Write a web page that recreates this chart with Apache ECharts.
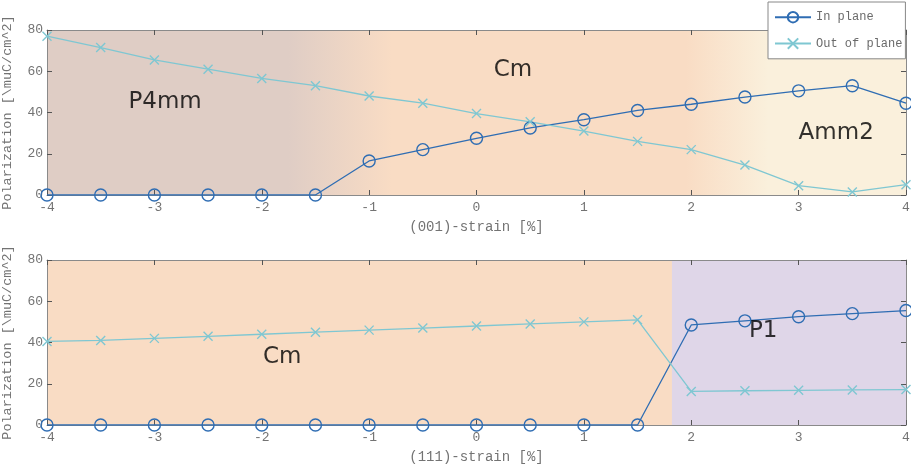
<!DOCTYPE html>
<html>
<head>
<meta charset="utf-8">
<script src="https://cdn.jsdelivr.net/npm/echarts@6/dist/echarts.min.js"></script>
<style>html,body{margin:0;padding:0;background:#fff}#c{width:911px;height:467px}</style>
</head>
<body>
<div id="c"></div>
<script>
// ---- data ----
const strain = [-4,-3.5,-3,-2.5,-2,-1.5,-1,-0.5,0,0.5,1,1.5,2,2.5,3,3.5,4];
const xTicks = [-4,-3,-2,-1,0,1,2,3,4];
const yTicks = [0,20,40,60,80];
const top_inPlane  = [0,0,0,0,0,0,16.5,22,27.5,32.5,36.5,41,44,47.5,50.5,53,44.5];
const top_outPlane = [77,71.5,65.5,61,56.5,53,48,44.5,39.5,35.5,31,26,22,14.5,4.5,1.5,5];
const bot_inPlane  = [0,0,0,0,0,0,0,0,0,0,0,0,48.5,50.5,52.5,54,55.5];
const bot_outPlane = [40.5,41,42,43,44,45,46,47,48,49,50,51,16.3,16.6,16.8,17,17.2];
const seriesNames = ['In plane','Out of plane'];
const xNames = ['(001)-strain [%]','(111)-strain [%]'];
const yName = 'Polarization [\\muC/cm^2]';
// phase regions [from, to, phase-from, phase-to]
const topPhases = [[-4,-1.75,'P4mm','P4mm'],[-1.75,-0.8,'P4mm','Cm'],[-0.8,1.95,'Cm','Cm'],[1.95,2.71,'Cm','Amm2'],[2.71,4,'Amm2','Amm2']];
const botPhases = [[-4,1.82,'Cm','Cm'],[1.82,4,'P1','P1']];
const topLabels = [['P4mm',-2.9,45],['Cm',0.34,60.6],['Amm2',3.35,30]];
const botLabels = [['Cm',-1.81,33],['P1',2.67,45.6]];

const phaseColor = {P4mm:'#dfcdc5', Cm:'#f9dcc4', Amm2:'#faf0dc', P1:'#dfd6e8'};
const cIn = '#2f6db3', cOut = '#7fc7d2';
const axisGray = '#8a8a8a', txtGray = '#737373';
const mono = 'Liberation Mono';

function pairs(ys){ return strain.map((x,i)=>[x,ys[i]]); }
function areas(ph){
  return ph.map((p,i) => [{xAxis:p[0], itemStyle:{color:{type:'linear',x:0,y:0,x2:1,y2:0,
      colorStops:[{offset:0,color:phaseColor[p[2]]},{offset:1,color:phaseColor[p[3]]}]}}},
      {xAxis: i<ph.length-1 ? p[1]+0.012 : p[1]}]);
}
const grids = [{left:47,right:5,top:30,height:165,outerBoundsMode:'none',containLabel:false},
               {left:47,right:5,top:260,height:165,outerBoundsMode:'none',containLabel:false}];
const xAxes = [], yAxes = [];
[0,1].forEach(g=>{
  const base = {type:'value',min:-4,max:4,interval:1,gridIndex:g,splitLine:{show:false},z:10,
    axisLine:{show:true,onZero:false,lineStyle:{color:axisGray,width:1}},axisTick:{show:true,inside:true,length:5,lineStyle:{color:'#555'}}};
  xAxes.push(Object.assign({},base,{position:'bottom',name:xNames[g],nameLocation:'middle',nameGap:25,
    nameTextStyle:{fontFamily:mono,fontSize:14,color:txtGray},
    axisLabel:{fontFamily:mono,fontSize:13,color:txtGray,margin:6,formatter:v=>xTicks.includes(v)?String(v):''}}));
  xAxes.push(Object.assign({},base,{position:'top',axisLabel:{show:false}}));
  const ybase = {type:'value',min:0,max:80,interval:20,gridIndex:g,splitLine:{show:false},z:10,
    axisLine:{show:true,onZero:false,lineStyle:{color:axisGray,width:1}},axisTick:{show:true,inside:true,length:5,lineStyle:{color:'#555'}}};
  yAxes.push(Object.assign({},ybase,{position:'left',name:yName,nameLocation:'middle',nameGap:33,
    nameTextStyle:{fontFamily:mono,fontSize:13.5,color:txtGray},
    axisLabel:{fontFamily:mono,fontSize:13,color:txtGray,margin:4,formatter:v=>yTicks.includes(v)?String(v):''}}));
  yAxes.push(Object.assign({},ybase,{position:'right',axisLabel:{show:false}}));
});

const xSym = 'path://M0,0L10,10M10,0L0,10';
function lineSeries(name, ys, g){
  const isIn = name===seriesNames[0];
  const c = isIn ? cIn : cOut;
  return {type:'line',name:name,data:pairs(ys),xAxisIndex:g*2,yAxisIndex:g*2,z:15,
    symbol: isIn ? 'circle' : xSym, symbolSize: isIn ? 12 : 9,
    lineStyle:{color:c,width:1.3},
    itemStyle:{color:'rgba(0,0,0,0)', borderColor:c, borderWidth:1.4},
    emphasis:{disabled:true}, animation:false};
}
function labelSeries(lbls, g){
  return {type:'scatter',xAxisIndex:g*2,yAxisIndex:g*2,symbolSize:0,silent:true,z:16,
    data:lbls.map(l=>({name:l[0],value:[l[1],l[2]]})),
    label:{show:true,position:'inside',formatter:'{b}',fontFamily:'DejaVu Sans',fontSize:23,color:'#000'},animation:false};
}
function areaSeries(ph, g){
  return {type:'line',xAxisIndex:g*2,yAxisIndex:g*2,data:[],silent:true,z:1,
    markArea:{silent:true,data:areas(ph)},animation:false};
}

const option = {
  animation:false,
  grid: grids,
  xAxis: xAxes,
  yAxis: yAxes,
  legend:{data:seriesNames.map(n=>({name:n,itemStyle:{color:'rgba(0,0,0,0)'}})),orient:'vertical',left:768,top:2,z:20,
    backgroundColor:'#fff',borderColor:'#888',borderWidth:1,padding:[9,3,9,6],itemGap:14,
    itemWidth:36,itemHeight:13,textStyle:{fontFamily:mono,fontSize:12,color:'#6a6a6a'}},
  series:[
    areaSeries(topPhases,0), areaSeries(botPhases,1),
    lineSeries(seriesNames[0], top_inPlane, 0),
    lineSeries(seriesNames[1], top_outPlane, 0),
    lineSeries(seriesNames[0], bot_inPlane, 1),
    lineSeries(seriesNames[1], bot_outPlane, 1),
    labelSeries(topLabels,0), labelSeries(botLabels,1)
  ]
};
echarts.init(document.getElementById('c'),null,{renderer:'canvas'}).setOption(option);
</script>
</body>
</html>
